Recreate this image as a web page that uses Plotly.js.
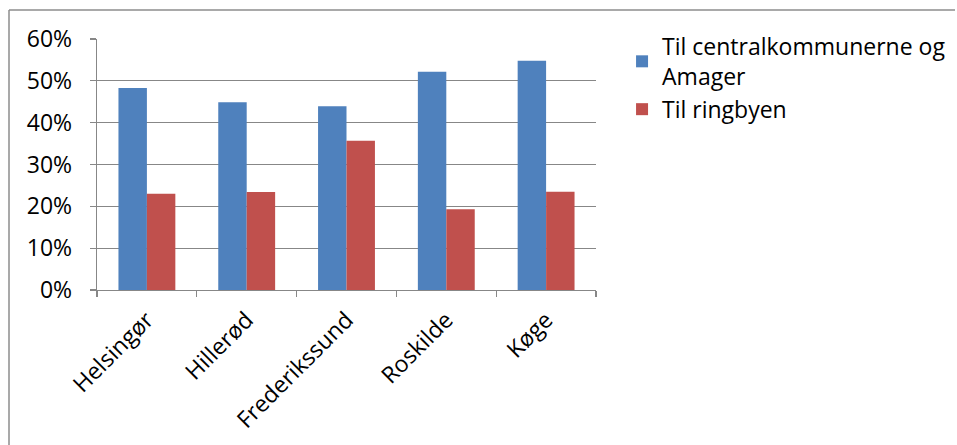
<!DOCTYPE html>
<html>
<head>
<meta charset="utf-8">
<script src="https://cdn.plot.ly/plotly-3.0.1.min.js"></script>
<style>
  html, body { margin: 0; padding: 0; background: #fff; }
  #chart { width: 957px; height: 445px; }
</style>
</head>
<body>
<div id="chart"></div>
<script>
// Byer (kategorier)
const categories = ["Helsingør", "Hillerød", "Frederikssund", "Roskilde", "Køge"];

// Andel pendlere pr. destination
const centralAmager = [0.483, 0.449, 0.439, 0.522, 0.548];
const ringbyen      = [0.230, 0.234, 0.357, 0.193, 0.235];

const seriesNames = ["Til centralkommunerne og<br>Amager", "Til ringbyen"];

const yTickVals = [0, 0.1, 0.2, 0.3, 0.4, 0.5, 0.6];
const yTickText = ["0%", "10%", "20%", "30%", "40%", "50%", "60%"];

const FONT = "Open Sans, Lato, sans-serif";
const FS = 23;
const gridColor = "#878787";

const traces = [
  {
    type: "bar",
    name: seriesNames[0],
    x: categories,
    y: centralAmager,
    marker: { color: "#4F81BD", line: { width: 0 } },
    hoverinfo: "x+y"
  },
  {
    type: "bar",
    name: seriesNames[1],
    x: categories,
    y: ringbyen,
    marker: { color: "#C0504D", line: { width: 0 } },
    hoverinfo: "x+y"
  }
];

const layout = {
  width: 957,
  height: 445,
  paper_bgcolor: "#ffffff",
  plot_bgcolor: "#ffffff",
  margin: { l: 97, r: 361, t: 39, b: 155, autoexpand: false },
  font: { family: FONT, size: FS, color: "#000000" },
  barmode: "group",
  bargap: 0.43,
  bargroupgap: 0,
  showlegend: true,
  legend: {
    xref: "container",
    yref: "container",
    x: 0.650,
    xanchor: "left",
    y: 0.944,
    yanchor: "top",
    font: { family: FONT, size: FS, color: "#000" },
    itemwidth: 30,
    tracegroupgap: 0,
    bgcolor: "rgba(0,0,0,0)"
  },
  xaxis: {
    type: "category",
    domain: [0, 1],
    tickangle: -45,
    tickson: "boundaries",
    ticks: "outside",
    ticklen: 6,
    tickcolor: gridColor,
    tickwidth: 1.3,
    showline: true,
    linecolor: gridColor,
    linewidth: 1.3,
    showgrid: false,
    zeroline: false,
    ticklabelstandoff: 6,
    tickfont: { family: FONT, size: FS, color: "#000" },
    fixedrange: true
  },
  yaxis: {
    range: [0, 0.6],
    tickvals: yTickVals,
    ticktext: yTickText,
    ticks: "outside",
    ticklen: 6,
    tickcolor: gridColor,
    tickwidth: 1.3,
    showline: true,
    linecolor: gridColor,
    linewidth: 1.3,
    showgrid: true,
    gridcolor: gridColor,
    gridwidth: 1.3,
    zeroline: false,
    ticklabelstandoff: 13,
    tickfont: { family: FONT, size: FS, color: "#000" },
    fixedrange: true
  },
  shapes: [
    // chart frame (top and left edges)
    { type: "line", xref: "paper", yref: "paper",
      x0: -88 / 499, x1: 858 / 499, y0: 1 + 29 / 251, y1: 1 + 29 / 251,
      line: { color: "#8c8c8c", width: 1.5 } },
    { type: "line", xref: "paper", yref: "paper",
      x0: -88 / 499, x1: -88 / 499, y0: 1 + 29 / 251, y1: -1,
      line: { color: "#8c8c8c", width: 1.5 } }
  ]
};

Plotly.newPlot("chart", traces, layout, { displayModeBar: false, staticPlot: true });
</script>
</body>
</html>
